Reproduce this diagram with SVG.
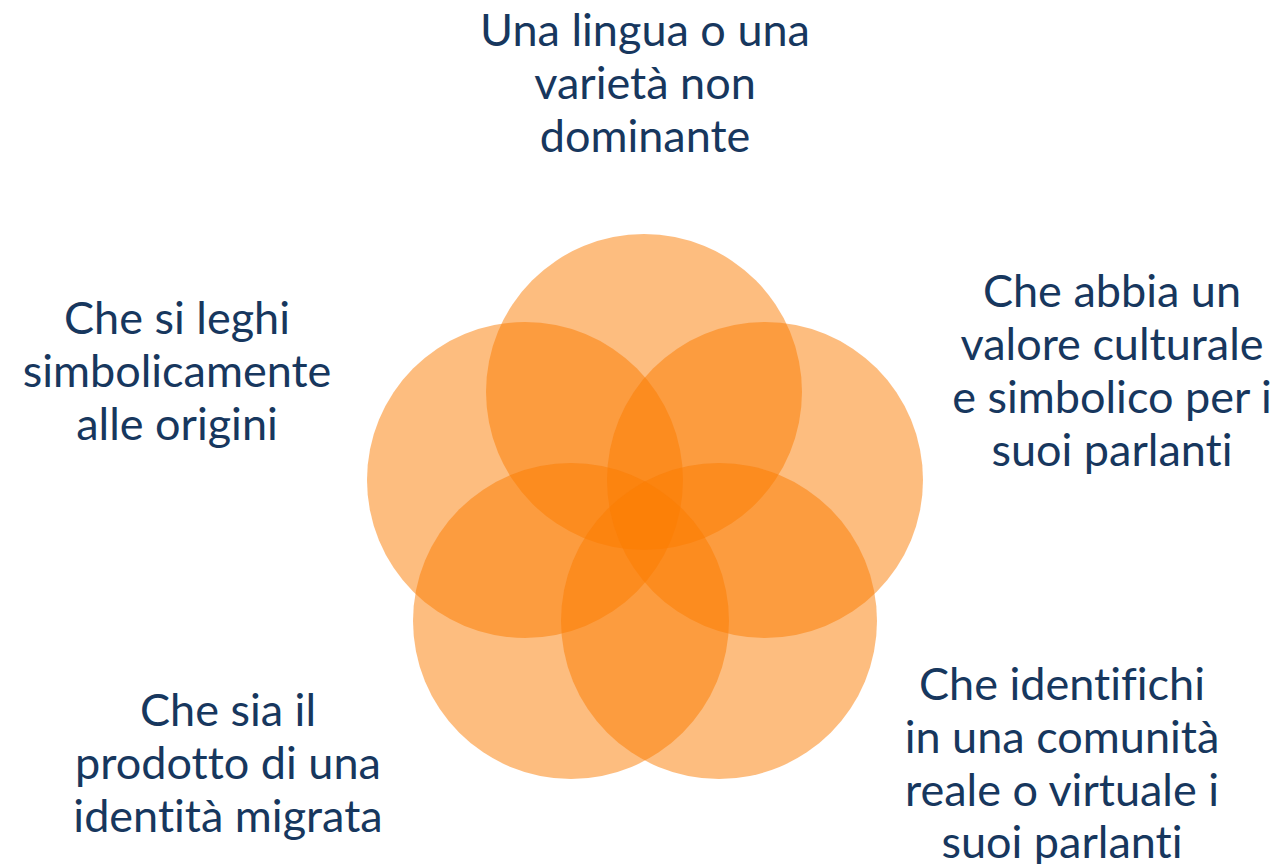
<svg xmlns="http://www.w3.org/2000/svg" width="1281" height="864" viewBox="0 0 1281 864">
<style>
.c{fill:#FC7C00;fill-opacity:0.5}
.t{font-family:Lato,"Open Sans","DejaVu Sans",sans-serif;font-size:45px;fill:#17375E;text-anchor:middle;font-variant-ligatures:none;font-feature-settings:"liga" 0,"dlig" 0}
</style>
<rect width="1281" height="864" fill="#fff"/>
<g id="circles">
<circle class="c" cx="644" cy="392" r="158"/>
<circle class="c" cx="525" cy="480" r="158"/>
<circle class="c" cx="765" cy="480" r="158"/>
<circle class="c" cx="571" cy="621" r="158"/>
<circle class="c" cx="719" cy="621" r="158"/>
</g>
<g id="label-top">
<text class="t" x="645" y="46">Una lingua o una</text>
<text class="t" x="645" y="99">varietà non</text>
<text class="t" x="645" y="152">dominante</text>
</g>
<g id="label-left">
<text class="t" x="177" y="334">Che si leghi</text>
<text class="t" x="177" y="387">simbolicamente</text>
<text class="t" x="177" y="440">alle origini</text>
</g>
<g id="label-right">
<text class="t" x="1112" y="307">Che abbia un</text>
<text class="t" x="1112" y="360">valore culturale</text>
<text class="t" x="1112" y="413">e simbolico per i</text>
<text class="t" x="1112" y="466">suoi parlanti</text>
</g>
<g id="label-bottom-left">
<text class="t" x="228" y="726">Che sia il</text>
<text class="t" x="228" y="779">prodotto di una</text>
<text class="t" x="228" y="832">identità migrata</text>
</g>
<g id="label-bottom-right">
<text class="t" x="1062" y="700">Che identifichi</text>
<text class="t" x="1062" y="753">in una comunità</text>
<text class="t" x="1062" y="806">reale o virtuale i</text>
<text class="t" x="1062" y="858">suoi parlanti</text>
</g>
</svg>
